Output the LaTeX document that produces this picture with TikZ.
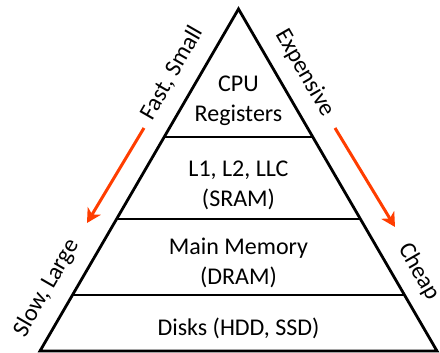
\documentclass[tikz,border=0pt]{standalone}
\usepackage{fontspec}
\setmainfont{Carlito}
\usetikzlibrary{arrows.meta,calc}
\definecolor{arrowred}{RGB}{255,61,0}

\begin{document}
\begin{tikzpicture}[x=1pt, y=1pt]
    \tikzstyle{layer}   = [align=center, font=\fontsize{24}{30}\selectfont, inner sep=0pt]
    \tikzstyle{side}    = [font=\fontsize{24}{28}\selectfont, inner sep=0pt]
    \tikzstyle{divider} = [line width=1.8pt]
    \tikzstyle{trend}   = [line width=3pt, arrowred, -{Stealth[length=14pt, width=15pt, inset=4pt]}]

    \useasboundingbox (0,0) rectangle (440,353);

    % Pyramid corners
    \coordinate (top) at (238.5,344);
    \coordinate (left) at (40,2);
    \coordinate (right) at (437,2);

    \draw [line width=2.8pt, line join=miter] (left) -- (top) -- (right) -- cycle;

    % Level dividers
    \draw [divider] ($(left)!0.6266!(top)$) -- ($(right)!0.6266!(top)$);
    \draw [divider] ($(left)!0.386!(top)$) -- ($(right)!0.386!(top)$);
    \draw [divider] ($(left)!0.1646!(top)$) -- ($(right)!0.1646!(top)$);

    % Levels
    \node [layer] (cpu)  at (238.5,252) {CPU\\Registers};
    \node [layer] (sram) at (238.5,168) {L1, L2, LLC\\(SRAM)};
    \node [layer] (dram) at (238.5,90)  {Main Memory\\(DRAM)};
    \node [layer] (disk) at (238.5,25)  {Disks (HDD, SSD)};

    % Side labels
    \node [side, rotate=60]  (fast)      at (172,280) {Fast, Small};
    \node [side, rotate=60]  (slow)      at (47,65)   {Slow, Large};
    \node [side, rotate=-60] (expensive) at (305,280) {Expensive};
    \node [side, rotate=-60] (cheap)     at (419,81)  {Cheap};

    % Trend arrows
    \coordinate (speedfrom) at (144,225);
    \coordinate (speedto)   at (87,130);
    \coordinate (costfrom)  at (335,225);
    \coordinate (costto)    at (395,126);
    \draw [trend] (speedfrom) -- (speedto);
    \draw [trend] (costfrom) -- (costto);

\end{tikzpicture}
\end{document}
